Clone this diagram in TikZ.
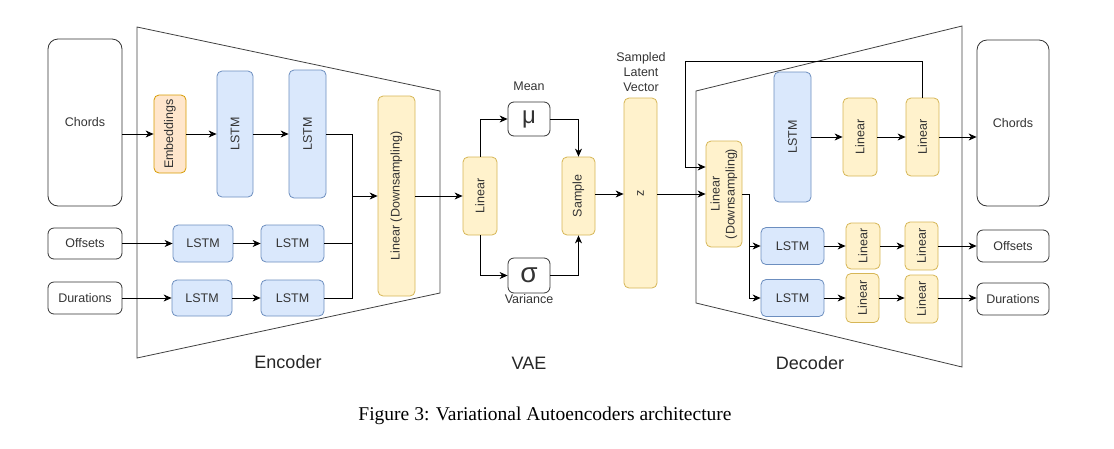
\documentclass[tikz,border=0pt]{standalone}
\usepackage{fontspec}
\setmainfont{Liberation Serif}
\setsansfont{Liberation Sans}
\usetikzlibrary{arrows.meta}

\definecolor{lstmfill}{HTML}{DAE8FC}
\definecolor{lstmline}{HTML}{6C8EBF}
\definecolor{linfill}{HTML}{FFF2CC}
\definecolor{linline}{HTML}{D6B656}
\definecolor{embfill}{HTML}{FFE6CC}
\definecolor{embline}{HTML}{D79B00}

\begin{document}
\begin{tikzpicture}[x=1pt,y=-1pt,
  lbl/.style={font=\sffamily\fontsize{12.5}{15}\selectfont, text=black!80},
  io/.style={lbl, draw=black!80, rounded corners=6pt, line width=0.8pt, inner sep=0pt},
  lstm/.style={lbl, draw=lstmline, fill=lstmfill, rounded corners=5pt, line width=0.8pt, inner sep=0pt},
  lin/.style={lbl, draw=linline, fill=linfill, rounded corners=5pt, line width=0.8pt, inner sep=0pt},
  emb/.style={lbl, draw=embline, fill=embfill, rounded corners=5pt, line width=0.8pt, inner sep=0pt},
  conn/.style={-{Stealth[length=8pt,width=7pt,inset=2.5pt]}, line width=0.8pt},
  wire/.style={line width=0.8pt},
  funnel/.style={draw=black!75, line width=0.8pt},
  part/.style={font=\sffamily\fontsize{18}{21}\selectfont, text=black!85}]

 \useasboundingbox (0,0) rectangle (1114,448);

 %% encoder
 \draw [funnel] (137,27) -- (440,91) -- (440,293) -- (137,358) -- cycle;
 \node [part] (encName) at (288,362) {Encoder};

 \node [io, rounded corners=10pt, minimum width=74pt, minimum height=167pt] (chordsIn) at (85,122.5) {Chords};
 \node [io, minimum width=74pt, minimum height=31pt] (offsetsIn) at (85,243.5) {Offsets};
 \node [io, minimum width=74pt, minimum height=32pt] (durationsIn) at (85,298) {Durations};

 \node [emb, minimum width=32pt, minimum height=78pt] (embed) at (170,134) {\rotatebox{90}{Embeddings}};
 \node [lstm, minimum width=36pt, minimum height=126pt] (encLstmA) at (235,134) {\rotatebox{90}{LSTM}};
 \node [lstm, minimum width=37pt, minimum height=128pt] (encLstmB) at (307.5,134) {\rotatebox{90}{LSTM}};
 \node [lstm, minimum width=60pt, minimum height=37pt] (offLstmA) at (203,243.5) {LSTM};
 \node [lstm, minimum width=63pt, minimum height=37pt] (offLstmB) at (292.5,243.5) {LSTM};
 \node [lstm, minimum width=60pt, minimum height=36pt] (durLstmA) at (202,298) {LSTM};
 \node [lstm, minimum width=63pt, minimum height=36pt] (durLstmB) at (292.5,298) {LSTM};
 \node [lin, minimum width=37pt, minimum height=200pt] (encDown) at (396.5,196) {\rotatebox{90}{Linear (Downsampling)}};

 \coordinate (encJoin) at (352,196);

 \draw [conn] (chordsIn.east |- embed) -- (embed);
 \draw [conn] (embed) -- (encLstmA);
 \draw [conn] (encLstmA) -- (encLstmB);
 \draw [conn] (offsetsIn) -- (offLstmA);
 \draw [conn] (offLstmA) -- (offLstmB);
 \draw [conn] (durationsIn) -- (durLstmA);
 \draw [conn] (durLstmA) -- (durLstmB);
 \draw [wire] (encLstmB.east) -| (encJoin);
 \draw [wire] (offLstmB.east) -| (encJoin);
 \draw [wire] (durLstmB.east) -| (encJoin);
 \draw [conn] (encJoin) -- (encDown);

 %% vae
 \node [lin, minimum width=34pt, minimum height=78pt] (vaeLin) at (480,196) {\rotatebox{90}{Linear}};
 \node [io, minimum width=42pt, minimum height=34pt] (mu) at (529,119) {\fontsize{24}{24}\selectfont μ};
 \node [io, minimum width=42pt, minimum height=35pt] (sigma) at (529,275.5) {\fontsize{28}{28}\selectfont σ};
 \node [lbl] (meanLbl) at (529,86) {Mean};
 \node [lbl] (varLbl) at (529,299) {Variance};
 \node [lin, minimum width=33pt, minimum height=78pt] (sample) at (578.5,196) {\rotatebox{90}{Sample}};
 \node [lin, minimum width=33pt, minimum height=190pt] (latent) at (640.5,193) {\rotatebox{90}{z}};
 \node [lbl, align=center] (latentLbl) at (641,72) {Sampled\\Latent\\Vector};
 \node [part] (vaeName) at (529,363) {VAE};

 \draw [conn] (encDown) -- (vaeLin);
 \draw [conn] (vaeLin.north) |- (mu);
 \draw [conn] (vaeLin.south) |- (sigma);
 \draw [conn] (mu) -| (sample);
 \draw [conn] (sigma) -| (sample);
 \draw [conn] (sample.east |- 0,194) -- (latent.west |- 0,194);

 %% decoder
 \draw [funnel] (696,91) -- (962,26) -- (962,367) -- (696,303) -- cycle;
 \node [part] (decName) at (810,363) {Decoder};

 \node [lin, minimum width=36pt, minimum height=106pt] (decDown) at (724,194)
   {\rotatebox{90}{\begin{tabular}{@{}c@{}}Linear\\(Downsampling)\end{tabular}}};
 \node [lstm, minimum width=37pt, minimum height=130pt] (decLstm) at (792.5,137) {\rotatebox{90}{LSTM}};
 \node [lin, minimum width=34pt, minimum height=78pt] (chLinA) at (860,137) {\rotatebox{90}{Linear}};
 \node [lin, minimum width=33pt, minimum height=78pt] (chLinB) at (922.5,137) {\rotatebox{90}{Linear}};
 \node [io, rounded corners=10pt, minimum width=72pt, minimum height=166pt] (chordsOut) at (1013,123) {Chords};

 \node [lstm, minimum width=63pt, minimum height=37pt] (offLstm) at (792.5,246) {LSTM};
 \node [lin, minimum width=34pt, minimum height=46pt] (offLinA) at (863,246) {\rotatebox{90}{Linear}};
 \node [lin, minimum width=33pt, minimum height=48pt] (offLinB) at (921.5,246) {\rotatebox{90}{Linear}};
 \node [io, minimum width=72pt, minimum height=32pt] (offsetsOut) at (1013,246) {Offsets};

 \node [lstm, minimum width=63pt, minimum height=37pt] (durLstm) at (792.5,298) {LSTM};
 \node [lin, minimum width=33pt, minimum height=49pt] (durLinA) at (862.5,298) {\rotatebox{90}{Linear}};
 \node [lin, minimum width=33pt, minimum height=48pt] (durLinB) at (921.5,299) {\rotatebox{90}{Linear}};
 \node [io, minimum width=72pt, minimum height=32pt] (durationsOut) at (1013,299) {Durations};

 \coordinate (loopTop) at (685,61);
 \coordinate (decSplit) at (749,194);

 \draw [conn] (latent.east |- decDown) -- (decDown);
 \draw [conn] (chLinB.north) |- (loopTop) |- ([yshift=27pt]decDown.west);
 \draw [wire] (decDown.east) -- (decSplit);
 \draw [conn] (decSplit) |- (offLstm);
 \draw [conn] (decSplit) |- (durLstm);

 \draw [conn] (decLstm) -- (chLinA);
 \draw [conn] (chLinA) -- (chLinB);
 \draw [conn] (chLinB) -- (chLinB -| chordsOut.west);
 \draw [conn] (offLstm) -- (offLinA);
 \draw [conn] (offLinA) -- (offLinB);
 \draw [conn] (offLinB) -- (offsetsOut);
 \draw [conn] (durLstm) -- (durLinA);
 \draw [conn] (durLinA) -- (durLinA -| durLinB.west);
 \draw [conn] (durLinB.east |- durLinA) -- (durLinA -| durationsOut.west);

 %% caption
 \node [font=\rmfamily\fontsize{19.5}{23}\selectfont] (caption) at (545,416) {Figure 3: Variational Autoencoders architecture};
\end{tikzpicture}
\end{document}
